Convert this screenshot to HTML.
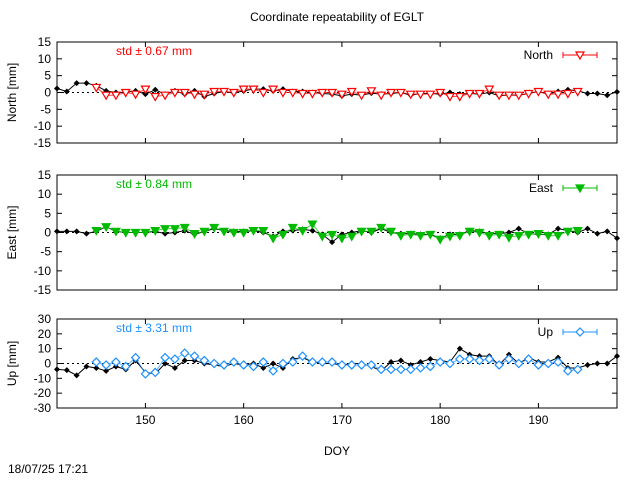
<!DOCTYPE html>
<html><head><meta charset="utf-8"><style>
body{margin:0;background:#fff;}
svg{font-family:"Liberation Sans",sans-serif;}
</style></head><body>
<svg id="c" width="640" height="480" xmlns="http://www.w3.org/2000/svg">
<text x="337" y="21" font-size="12" text-anchor="middle">Coordinate repeatability of EGLT</text>
<text x="337" y="455" font-size="12" text-anchor="middle">DOY</text>
<text x="8" y="473" font-size="12">18/07/25 17:21</text>
</svg>
<script>
const days=[];for(let d=141;d<=198;d++)days.push(d);
const northRef=[1.2,0.3,2.8,2.8,2.0,0.5,0,0,0.5,-0.5,0.8,-0.5,0.5,-0.5,0.5,-1.2,-0.3,0.3,-0.2,0.5,1.0,1.0,0.5,1.0,0.3,0.3,0,-0.3,-0.5,-1,-0.5,-0.8,-0.2,-0.5,-0.3,0,-0.8,-0.3,-0.3,-0.5,0,-0.5,-0.3,-0.5,0,-1,-0.7,-0.8,-0.3,0.3,-0.5,0.3,0.8,0.5,-0.3,-0.3,-0.8,0.2];
const eastRef=[0.3,0.3,0.3,-0.3,0.3,1.5,0.3,0,0,0,0.3,-0.3,0,0.5,-0.5,0.3,1.0,0.5,0.3,0.3,0.5,0,-1,0.3,0.5,0.8,0.5,-0.5,-2.5,-0.5,0,0.5,0,1,0,-0.3,-0.3,-0.5,-0.5,-1.5,-0.5,-0.5,0.5,0.3,-0.3,-0.3,0,1,-0.3,-0.5,-0.5,1,0.5,0,1,-0.3,0.3,-1.5];
const upRef=[-4,-4.5,-8,-2,-3,-5,-2,-4,2,-6,-7,0,-3,2,2,0,-1,-2,0,-1,0,-3,0,-3,3,4,1,0,0,-1,0,0,-2,-5,1,2,-1,1,3,2,1,10,6,5,5,-1,6,0,4,1,1,4,-3,-3,-1,0,0,5];
const cdays=[];for(let d=145;d<=194;d++)cdays.push(d);
const northVals=[1.5,-0.8,-0.8,0,-0.5,1.0,-1.2,-0.8,0,0,-0.5,-0.5,0.3,0.3,0,1.0,1.0,0,1.0,0,0,-0.3,-0.3,0,0,-0.5,0.3,-0.8,0.5,-0.8,0,0,-0.5,-0.5,-0.5,0,-1.2,-1.2,-0.3,-0.3,1.0,-0.8,-0.8,-0.8,-0.3,0.3,-0.5,-0.5,-0.3,0.3];
const eastVals=[0.5,1.5,0.3,0,0,0,0.5,1,1,1.3,-0.3,0.3,1.3,0.3,0,0,0.5,0.5,-1.5,-0.5,1.3,0.5,2.2,-1,-0.5,-1.5,-1,0.3,0.3,1.3,0.3,-0.8,-0.5,-0.8,-0.5,-1.8,-1,-0.8,0.3,0,-0.8,-0.5,-1.3,-0.8,-0.5,-0.3,-0.8,-0.8,0.3,0.5];
const upVals=[1,-1,1,-2,4,-7,-6,4,3,7,5,2,0,-1,1,-1,-2,1,-5,0,1,5,1,1,1,-1,-1,-1,-1,-4,-4,-4,-4,-3,-2,1,0,3,3,2,3,-1,3,0,3,-1,0,1,-5,-4];
const xTicks=[150,160,170,180,190];
const NS="http://www.w3.org/2000/svg",svg=document.getElementById('c');
const X0=57,X1=617,dMin=141,dMax=198;
const xs=d=>X0+(d-dMin)*(X1-X0)/(dMax-dMin);
function el(t,a,p){const e=document.createElementNS(NS,t);for(const k in a)e.setAttribute(k,a[k]);(p||svg).appendChild(e);return e;}
function panel(cfg){
 const {top,bot,min,max,ticks,label,color,name,vals,ref,mk,std,stdc}=cfg;
 const ys=v=>bot-(v-min)*(bot-top)/(max-min);
 const g=el('g',{});
 
 
 ticks.forEach(t=>{const y=ys(t);
  el('line',{x1:X0,x2:X0+5,y1:y,y2:y,stroke:'#000'},g);el('line',{x1:X1-5,x2:X1,y1:y,y2:y,stroke:'#000'},g);
  const tx=el('text',{x:X0-6,y:y+4,'font-size':12,'text-anchor':'end'},g);tx.textContent=t;
  
  });
 xTicks.forEach(t=>{const x=xs(t);el('line',{x1:x,x2:x,y1:bot,y2:bot-5,stroke:'#000'},g);el('line',{x1:x,x2:x,y1:top,y2:top+5,stroke:'#000'},g);
  if(cfg.xlab){const tx=el('text',{x:x,y:bot+16,'font-size':12,'text-anchor':'middle'},g);tx.textContent=t;
  
  }});
 el('line',{x1:X0,x2:X1,y1:ys(0),y2:ys(0),stroke:'#000','stroke-dasharray':'2,3'},g);
 const yl=el('text',{x:0,y:0,'font-size':12,'text-anchor':'middle',transform:`translate(16,${(top+bot)/2}) rotate(-90)`},g);yl.textContent=label;
 
 
 // black ref
 el('polyline',{points:days.map((d,i)=>xs(d)+','+ys(ref[i])).join(' '),fill:'none',stroke:'#000','stroke-width':1},g);
 days.forEach((d,i)=>{const x=xs(d),y=ys(ref[i]);const p=el('polygon',{points:`${x},${y-3} ${x+3},${y} ${x},${y+3} ${x-3},${y}`,fill:'#000'},g);
  
  });
 el('polyline',{points:cdays.map((d,i)=>xs(d)+','+ys(vals[i])).join(' '),fill:'none',stroke:color,'stroke-width':1,opacity:0.7},g);
 const marker=(x,y)=>{ if(mk==='tri'||mk==='ftri') return el('polygon',{points:`${x-4},${y-3} ${x+4},${y-3} ${x},${y+4}`,fill:mk==='ftri'?color:'#fff',stroke:color,'stroke-width':1.2},g);
  return el('polygon',{points:`${x},${y-4} ${x+4},${y} ${x},${y+4} ${x-4},${y}`,fill:'#fff',stroke:color,'stroke-width':1.2},g);};
 cdays.forEach((d,i)=>{const m=marker(xs(d),ys(vals[i]));
  
  });
 el('rect',{x:X0,y:top,width:X1-X0,height:bot-top,fill:'none',stroke:'#000'},g);
 const st=el('text',{x:116,y:top+13,'font-size':12,fill:stdc},g);st.textContent=std;
 
 
 const lt=el('text',{x:553,y:top+17,'font-size':12,'text-anchor':'end'},g);lt.textContent=cfg.legend;
 
 
 const ly=top+13;
 el('line',{x1:563,x2:597,y1:ly,y2:ly,stroke:color},g);
 el('line',{x1:563,x2:563,y1:ly-3,y2:ly+3,stroke:color},g);el('line',{x1:597,x2:597,y1:ly-3,y2:ly+3,stroke:color},g);
 const lm=marker(580,ly);
 
 
}
panel({top:42,bot:143,min:-15,max:15,ticks:[15,10,5,0,-5,-10,-15],label:'North [mm]',color:'#ff0000',name:'north',vals:northVals,ref:northRef,mk:'tri',std:'std ± 0.67 mm',stdc:'#ff0000',legend:'North'});
panel({top:175,bot:290,min:-15,max:15,ticks:[15,10,5,0,-5,-10,-15],label:'East [mm]',color:'#00bb00',name:'east',vals:eastVals,ref:eastRef,mk:'ftri',std:'std ± 0.84 mm',stdc:'#00bb00',legend:'East'});
panel({top:319,bot:408,min:-30,max:30,ticks:[30,20,10,0,-10,-20,-30],label:'Up [mm]',color:'#1e90ff',name:'up',vals:upVals,ref:upRef,mk:'dia',std:'std ± 3.31 mm',stdc:'#1e90ff',legend:'Up',xlab:true});
</script>
</body></html>
